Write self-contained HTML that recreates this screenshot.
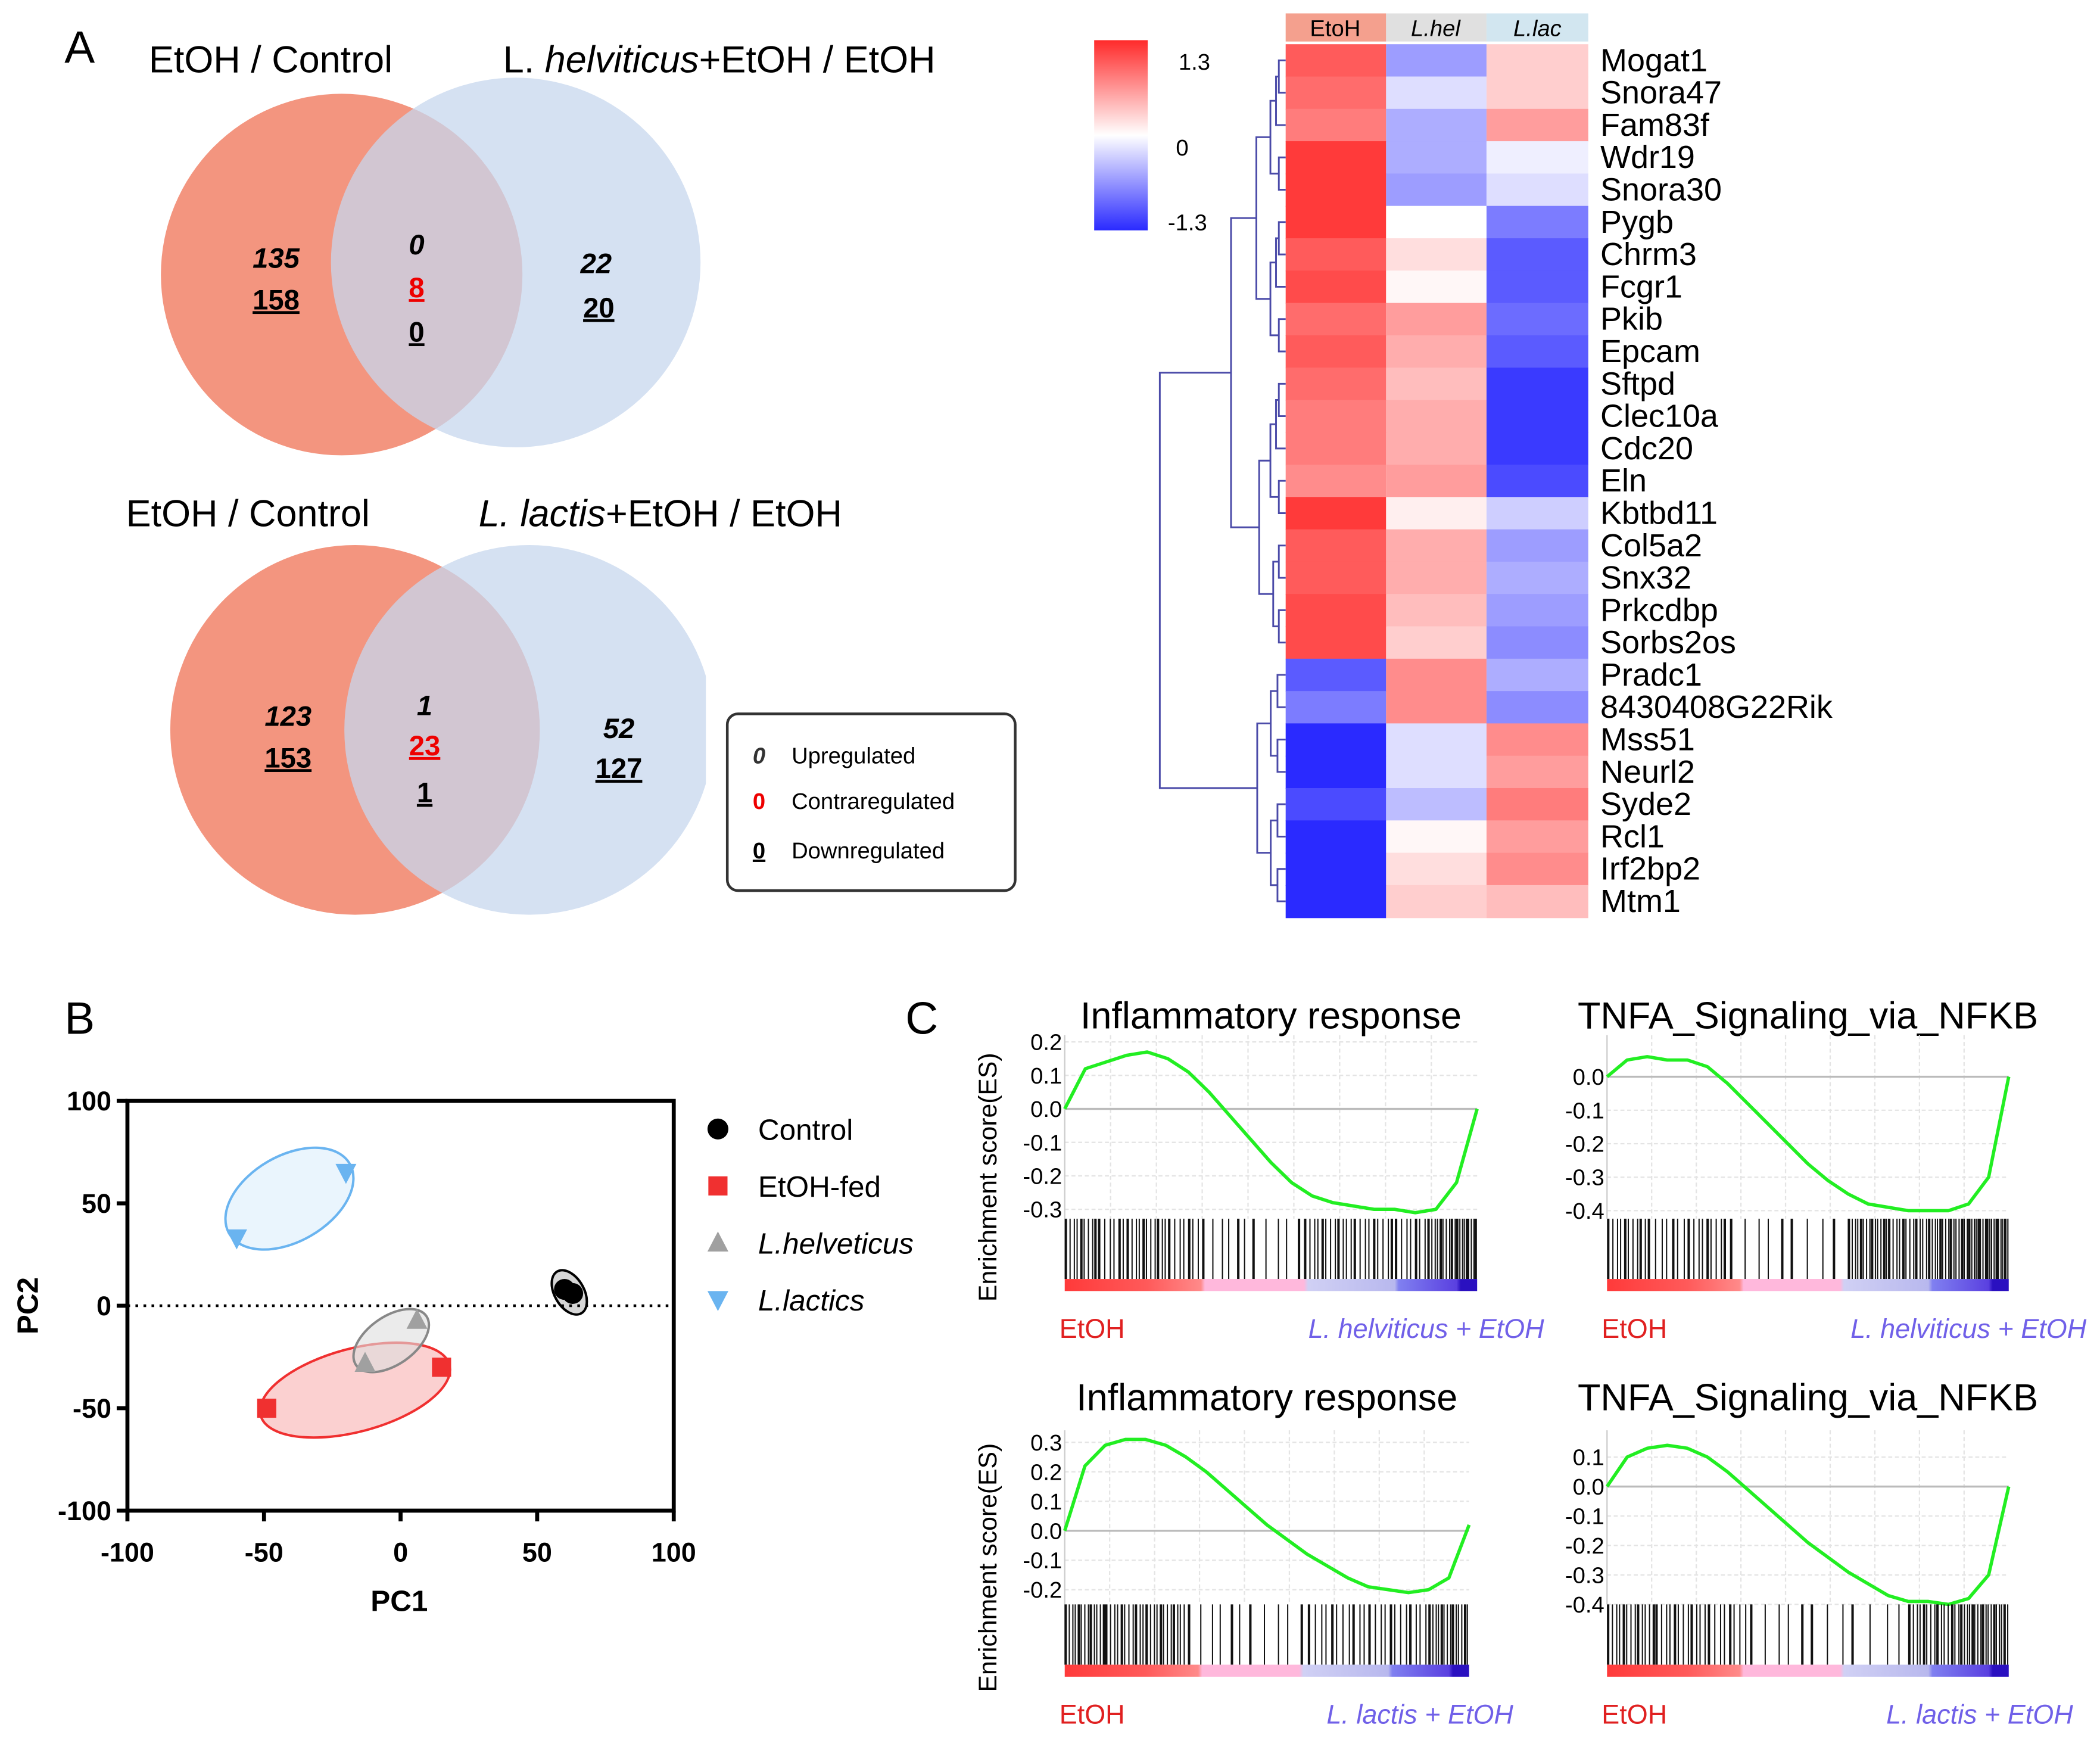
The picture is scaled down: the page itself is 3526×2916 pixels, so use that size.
<!DOCTYPE html>
<html><head><meta charset="utf-8"><style>
html,body{margin:0;padding:0;background:#fff;}
svg{display:block;font-family:"Liberation Sans",sans-serif;}
</style></head><body>
<svg id="fig" width="3526" height="2916" viewBox="0 0 1568 1297" xmlns="http://www.w3.org/2000/svg">
<defs>
<linearGradient id="scaleGrad" x1="0" y1="0" x2="0" y2="1">
<stop offset="0" stop-color="#ff2a2a"/><stop offset="0.5" stop-color="#ffffff"/><stop offset="1" stop-color="#2a2aff"/>
</linearGradient>
<linearGradient id="rankGrad" x1="0" y1="0" x2="1" y2="0">
<stop offset="0" stop-color="#ff3a3a"/><stop offset="0.2" stop-color="#ff5a5a"/><stop offset="0.33" stop-color="#ff8a8a"/><stop offset="0.34" stop-color="#ffb8dc"/><stop offset="0.58" stop-color="#ffb8dc"/><stop offset="0.59" stop-color="#d0d0f4"/><stop offset="0.8" stop-color="#b8b8ee"/><stop offset="0.81" stop-color="#8080f0"/><stop offset="0.95" stop-color="#5a40e0"/><stop offset="0.96" stop-color="#2a10c0"/><stop offset="1" stop-color="#2a10c0"/>
</linearGradient>
<clipPath id="venn2clip"><rect x="0" y="380" width="527" height="320"/></clipPath>
</defs>

<g>
<text x="48" y="47" font-size="34">A</text>
<text x="202" y="54" font-size="28" text-anchor="middle">EtOH / Control</text>
<text x="537" y="54" font-size="28" text-anchor="middle">L. <tspan font-style="italic">helviticus</tspan>+EtOH / EtOH</text>
<circle cx="255" cy="205" r="135" fill="#f3957f"/>
<circle cx="385" cy="196" r="138" fill="#c7d7ee" opacity="0.75"/>
<g font-size="21" font-weight="bold" text-anchor="middle">
<text x="206" y="200" font-style="italic">135</text>
<text x="206" y="231" text-decoration="underline">158</text>
<text x="311" y="190" font-style="italic">0</text>
<text x="311" y="222" fill="#e00" text-decoration="underline">8</text>
<text x="311" y="255" text-decoration="underline">0</text>
<text x="445" y="204" font-style="italic">22</text>
<text x="447" y="237" text-decoration="underline">20</text>
</g>
</g>
<g>
<text x="185" y="393" font-size="28" text-anchor="middle">EtOH / Control</text>
<text x="493" y="393" font-size="28" text-anchor="middle"><tspan font-style="italic">L. lactis</tspan>+EtOH / EtOH</text>
<g clip-path="url(#venn2clip)">
<circle cx="265" cy="545" r="138" fill="#f3957f"/>
<circle cx="395" cy="545" r="138" fill="#c7d7ee" opacity="0.75"/>
</g>
<g font-size="21" font-weight="bold" text-anchor="middle">
<text x="215" y="542" font-style="italic">123</text>
<text x="215" y="573" text-decoration="underline">153</text>
<text x="317" y="534" font-style="italic">1</text>
<text x="317" y="564" fill="#e00" text-decoration="underline">23</text>
<text x="317" y="599" text-decoration="underline">1</text>
<text x="462" y="551" font-style="italic">52</text>
<text x="462" y="581" text-decoration="underline">127</text>
</g>
<g>
<rect x="543" y="533" width="215" height="132" rx="8" fill="#fff" stroke="#333" stroke-width="2"/>
<g font-size="17">
<text x="562" y="570" font-weight="bold" font-style="italic" fill="#333">0</text><text x="591" y="570">Upregulated</text>
<text x="562" y="604" font-weight="bold" fill="#e00">0</text><text x="591" y="604">Contraregulated</text>
<text x="562" y="641" font-weight="bold" text-decoration="underline">0</text><text x="591" y="641">Downregulated</text>
</g>
</g>
</g>

<g id="heatmap">
<rect x="817" y="30" width="40" height="142" fill="url(#scaleGrad)"/>
<text x="880" y="52" font-size="17">1.3</text>
<text x="878" y="116" font-size="17">0</text>
<text x="872" y="172" font-size="17">-1.3</text>
<rect x="960" y="10" width="75" height="21" fill="#f4a08e"/><text x="997" y="27" font-size="17" text-anchor="middle">EtoH</text>
<rect x="1035" y="10" width="75" height="21" fill="#e0e0e0"/><text x="1072" y="27" font-size="17" font-style="italic" text-anchor="middle">L.hel</text>
<rect x="1110" y="10" width="76" height="21" fill="#d2e6f0"/><text x="1148" y="27" font-size="17" font-style="italic" text-anchor="middle">L.lac</text>
</g>

<g id="pca">
<text x="48" y="772" font-size="34">B</text>
</g>

<g id="gsea">
<text x="676" y="772" font-size="34">C</text>
</g>
</svg>
<script>
const NS="http://www.w3.org/2000/svg";
function mk(parent,tag,attrs,text){const e=document.createElementNS(NS,tag);for(const k in attrs)e.setAttribute(k,attrs[k]);if(text!==undefined)e.textContent=text;parent.appendChild(e);return e;}

const genes=["Mogat1","Snora47","Fam83f","Wdr19","Snora30","Pygb","Chrm3","Fcgr1","Pkib","Epcam","Sftpd","Clec10a","Cdc20","Eln","Kbtbd11","Col5a2","Snx32","Prkcdbp","Sorbs2os","Pradc1","8430408G22Rik","Mss51","Neurl2","Syde2","Rcl1","Irf2bp2","Mtm1"];
const etohVals=[1.0,0.9,0.8,1.2,1.2,1.2,1.0,1.1,0.9,1.0,0.9,0.8,0.8,0.7,1.2,1.0,1.0,1.1,1.1,-1.0,-0.8,-1.3,-1.3,-1.1,-1.3,-1.3,-1.3];
const lhelVals=[-0.6,-0.2,-0.5,-0.5,-0.6,0.0,0.2,0.05,0.6,0.5,0.4,0.5,0.5,0.6,0.1,0.5,0.5,0.4,0.3,0.7,0.7,-0.2,-0.2,-0.4,0.05,0.2,0.3];
const llacVals=[0.3,0.3,0.6,-0.1,-0.2,-0.8,-1.0,-1.0,-0.9,-1.0,-1.2,-1.2,-1.2,-1.1,-0.3,-0.6,-0.5,-0.6,-0.7,-0.5,-0.7,0.7,0.6,0.8,0.6,0.7,0.4];
const hm=document.getElementById('heatmap');
const hmTop=33,rowH=24.15,colX=[960,1035,1110],colW=[75,75,76];
function heatColor(v){const t=Math.max(-1,Math.min(1,v/1.3));
 if(t>=0){const g=Math.round(255-(255-42)*t);return `rgb(255,${g},${g})`;}
 const g=Math.round(255-(255-42)*(-t));return `rgb(${g},${g},255)`;}
const hmSeries=[etohVals,lhelVals,llacVals];
genes.forEach((g,i)=>{
 const y=hmTop+i*rowH;
 hmSeries.forEach((s,c)=>{
  const r=mk(hm,'rect',{x:colX[c],y:y,width:colW[c],height:rowH+0.5,fill:heatColor(s[i])});
  
  
 });
 const t=mk(hm,'text',{x:1195,y:y+rowH/2+8,'font-size':24},g);
 
 
});
const rowY=i=>hmTop+i*rowH+rowH/2;
function dend(lo,hi,x0){
 if(lo===hi)return rowY(lo);
 const mid=Math.floor((lo+hi)/2);
 const span=hi-lo;
 const xn=960-Math.min(90,6+span*4.2)*(x0||1);
 const y1=dend(lo,mid,x0),y2=dend(mid+1,hi,x0);
 const xc1=lo===mid?960:960-Math.min(90,6+(mid-lo)*4.2)*(x0||1);
 const xc2=mid+1===hi?960:960-Math.min(90,6+(hi-mid-1)*4.2)*(x0||1);
 const p=mk(hm,'path',{d:`M${xc1},${y1}H${xn}V${y2}H${xc2}`,stroke:'#4a4aa8','stroke-width':1.3,fill:'none'});
 
 
 return (y1+y2)/2;
}
const yTop=dend(0,18,0.5),yBot=dend(19,26,0.6);
const topX=960-Math.min(90,6+18*4.2)*0.5,botX=960-Math.min(90,6+7*4.2)*0.6;
const rootP=mk(hm,'path',{d:`M${topX},${yTop}H866V${yBot}H${botX}`,stroke:'#4a4aa8','stroke-width':1.3,fill:'none'});



const pcaGroups=["Control","EtOH-fed","L.helveticus","L.lactics"];
const pcaX=[[60,63],[-49,15],[6,-13],[-60,-20]];
const pcaY=[[8,6],[-50,-30],[-7,-28],[33,65]];
const xTicks=[-100,-50,0,50,100];
const yTicks=[-100,-50,0,50,100];
const pca=document.getElementById('pca');
const px=v=>95+(v+100)*2.04, py=v=>975-v*1.53;
const ell=[[425,965,11,18,-30,'#000','#bbb'],[265,1038,73,31,-15,'#f03030','#f9b0b0'],[292,1001,32,18,-35,'#888','#ddd'],[216,895,52,32,-30,'#6ab4f0','#dceefc']];
[3,1,2,0].forEach(k=>{const e=ell[k];
 const el=mk(pca,'ellipse',{cx:e[0],cy:e[1],rx:e[2],ry:e[3],transform:`rotate(${e[4]} ${e[0]} ${e[1]})`,fill:e[6],'fill-opacity':0.6,stroke:e[5],'stroke-width':1.8});
 
 });
mk(pca,'line',{x1:px(-100),y1:py(0),x2:px(100),y2:py(0),stroke:'#000','stroke-width':2,'stroke-dasharray':'2,4'});
const ax=mk(pca,'path',{d:`M${px(-100)},${py(100)}H${px(100)}V${py(-100)}H${px(-100)}Z`,fill:'none',stroke:'#000','stroke-width':3});


xTicks.forEach(t=>{mk(pca,'line',{x1:px(t),y1:py(-100),x2:px(t),y2:py(-100)+8,stroke:'#000','stroke-width':3});
 const l=mk(pca,'text',{x:px(t),y:py(-100)+38,'font-size':20,'font-weight':'bold','text-anchor':'middle'},t);
 
 });
yTicks.forEach(t=>{mk(pca,'line',{x1:px(-100)-8,y1:py(t),x2:px(-100),y2:py(t),stroke:'#000','stroke-width':3});
 const l=mk(pca,'text',{x:px(-100)-12,y:py(t)+7,'font-size':20,'font-weight':'bold','text-anchor':'end'},t);
 
 });
const xt=mk(pca,'text',{x:298,y:1203,'font-size':22,'font-weight':'bold','text-anchor':'middle'},'PC1');


const yt=mk(pca,'text',{x:28,y:975,'font-size':22,'font-weight':'bold','text-anchor':'middle',transform:'rotate(-90 28 975)'},'PC2');


const mColor=['#000','#f03030','#a0a0a0','#6ab4f0'];
function marker(g,k,x,y,s){
 if(k===0)return mk(g,'circle',{cx:x,cy:y,r:s*0.6,fill:mColor[k]});
 if(k===1)return mk(g,'rect',{x:x-s*0.55,y:y-s*0.55,width:s*1.1,height:s*1.1,fill:mColor[k]});
 if(k===2)return mk(g,'path',{d:`M${x},${y-s*0.65}L${x+s*0.6},${y+s*0.5}L${x-s*0.6},${y+s*0.5}Z`,fill:mColor[k]});
 return mk(g,'path',{d:`M${x},${y+s*0.65}L${x+s*0.6},${y-s*0.5}L${x-s*0.6},${y-s*0.5}Z`,fill:mColor[k]});
}
pcaGroups.forEach((g,k)=>{
 pcaX[k].forEach((v,i)=>{const m=marker(pca,k,px(v),py(pcaY[k][i]),13);
  
  });
 const ly=843+k*42.5;
 const lm=marker(pca,k,536,ly,13);
 
 
 const lt=mk(pca,'text',{x:566,y:ly+8,'font-size':22,'font-style':k>=2?'italic':'normal'},g);
 
 
});

const es1=[0,0.12,0.14,0.16,0.17,0.15,0.11,0.05,-0.02,-0.09,-0.16,-0.22,-0.26,-0.28,-0.29,-0.3,-0.3,-0.31,-0.3,-0.22,0];
const es2=[0,0.05,0.06,0.05,0.05,0.03,-0.02,-0.08,-0.14,-0.2,-0.26,-0.31,-0.35,-0.38,-0.39,-0.4,-0.4,-0.4,-0.38,-0.3,0];
const es3=[0,0.22,0.29,0.31,0.31,0.29,0.25,0.2,0.14,0.08,0.02,-0.03,-0.08,-0.12,-0.16,-0.19,-0.2,-0.21,-0.2,-0.16,0.02];
const es4=[0,0.1,0.13,0.14,0.13,0.1,0.05,-0.01,-0.07,-0.13,-0.19,-0.24,-0.29,-0.33,-0.37,-0.39,-0.39,-0.4,-0.38,-0.3,0];
const ticks1=[0.2,0.1,0.0,-0.1,-0.2,-0.3];
const ticks2=[0.0,-0.1,-0.2,-0.3,-0.4];
const ticks3=[0.3,0.2,0.1,0.0,-0.1,-0.2];
const ticks4=[0.1,0.0,-0.1,-0.2,-0.3,-0.4];
// barcode density segments: [startFrac,endFrac,hitCount]
const bar1=[[0,0.08,9],[0.08,0.15,6],[0.15,0.25,11],[0.25,0.33,7],[0.33,0.45,6],[0.45,0.58,5],[0.58,0.7,12],[0.7,0.8,9],[0.8,0.88,7],[0.88,0.95,10],[0.95,1,9]];
const bar2=[[0,0.1,10],[0.1,0.2,7],[0.2,0.3,9],[0.3,0.45,5],[0.45,0.55,3],[0.55,0.6,1],[0.6,0.7,14],[0.7,0.8,12],[0.8,0.9,15],[0.9,1,18]];
const bar3=[[0,0.1,13],[0.1,0.2,11],[0.2,0.3,12],[0.3,0.45,6],[0.45,0.6,5],[0.6,0.75,11],[0.75,0.9,12],[0.9,1,14]];
const bar4=[[0,0.12,13],[0.12,0.25,12],[0.25,0.35,8],[0.35,0.5,5],[0.5,0.6,3],[0.6,0.75,4],[0.75,0.88,15],[0.88,1,18]];
const panels=[
 {x0:795,x1:1103,title:'Inflammatory response',ty:768,zero:828,per:25,es:es1,ticks:ticks1,bar:bar1,bTop:910,bBot:955,right:'L. helviticus + EtOH',ly:999,top:773,rx:1153},
 {x0:1200,x1:1500,title:'TNFA_Signaling_via_NFKB',ty:768,zero:804,per:25,es:es2,ticks:ticks2,bar:bar2,bTop:910,bBot:955,right:'L. helviticus + EtOH',ly:999,top:773,rx:1558},
 {x0:795,x1:1097,title:'Inflammatory response',ty:1053,zero:1143,per:22,es:es3,ticks:ticks3,bar:bar3,bTop:1198,bBot:1243,right:'L. lactis + EtOH',ly:1287,top:1068,rx:1130},
 {x0:1200,x1:1500,title:'TNFA_Signaling_via_NFKB',ty:1053,zero:1110,per:22,es:es4,ticks:ticks4,bar:bar4,bTop:1198,bBot:1243,right:'L. lactis + EtOH',ly:1287,top:1068,rx:1548}
];
const gs=document.getElementById('gsea');
panels.forEach((p,pi)=>{
 const g=mk(gs,'g',{});
 
 
 const w=p.x1-p.x0, ey=v=>p.zero-v*p.per*10;
 const tt=mk(g,'text',{x:(p.x0+p.x1)/2,y:p.ty,'font-size':28,'text-anchor':'middle'},p.title);
 
 
 for(let k=1;k<9;k++)mk(g,'line',{x1:p.x0+w*k/9,y1:p.top,x2:p.x0+w*k/9,y2:p.bTop,stroke:'#e4e4e4','stroke-width':1,'stroke-dasharray':'3,2'});
 p.ticks.forEach(t=>{
  mk(g,'line',{x1:p.x0,y1:ey(t),x2:p.x1,y2:ey(t),stroke:t===0?'#bbb':'#e4e4e4','stroke-width':t===0?1.5:1,'stroke-dasharray':t===0?'':'3,2'});
  const l=mk(g,'text',{x:p.x0-2,y:ey(t)+6,'font-size':17,'text-anchor':'end'},t.toFixed(1));
  
  
 });
 mk(g,'line',{x1:p.x0,y1:p.top,x2:p.x0,y2:p.bTop,stroke:'#ccc','stroke-width':1});
 const pts=p.es.map((v,i)=>`${p.x0+w*i/(p.es.length-1)},${ey(v)}`).join(' ');
 const cl=mk(g,'polyline',{points:pts,fill:'none',stroke:'#22ee22','stroke-width':2.5,'stroke-linejoin':'round'});
 
 
 p.bar.forEach(s=>{for(let j=0;j<s[2];j++){const f=s[0]+(s[1]-s[0])*(j+0.3+0.4*((j*7)%5)/5)/s[2];
  const xx=p.x0+w*f;
  const ln=mk(g,'line',{x1:xx,y1:p.bTop,x2:xx,y2:p.bBot,stroke:'#111','stroke-width':(j%4===0)?1.8:0.9});
  
  }});
 const rb=mk(g,'rect',{x:p.x0,y:p.bBot,width:w,height:9,fill:'url(#rankGrad)'});
 
 
 const l1=mk(g,'text',{x:p.x0-4,y:p.ly,'font-size':20,fill:'#e02020'},'EtOH');
 
 
 const l2=mk(g,'text',{x:p.rx,y:p.ly,'font-size':20,fill:'#7060e8','font-style':'italic','text-anchor':'end'},p.right);
 
 
 if(pi%2===0){const cy=(p.top+p.bBot)/2+15;
  const yl=mk(g,'text',{x:744,y:cy,'font-size':19,'text-anchor':'middle',transform:`rotate(-90 744 ${cy})`},'Enrichment score(ES)');
  
  }
});
</script>
</body></html>
